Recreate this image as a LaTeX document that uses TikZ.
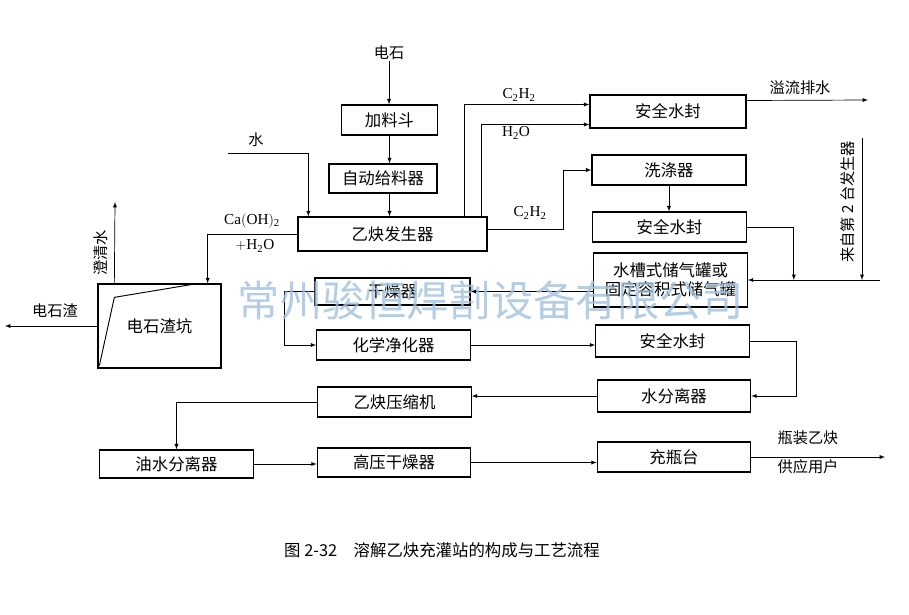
\documentclass[tikz,border=0pt]{standalone}
\usepackage{fontspec}
\setmainfont{Liberation Serif}
\newfontfamily\cjk{Noto Sans CJK SC}
\usepackage{xcolor}
\usetikzlibrary{calc, positioning}
\definecolor{markblue}{RGB}{160,192,222}

\begin{document}
\begin{tikzpicture}[>=latex, x=0.03cm, y=-0.03cm,
    box/.style={draw, line width=1.1pt, minimum width=4.6cm, minimum height=0.9cm,
        inner sep=1pt, font=\cjk\fontsize{14}{16}\selectfont},
    lbl/.style={inner sep=1pt, font=\cjk\fontsize{13}{15}\selectfont},
    flow/.style={->, line width=0.6pt}]
    \useasboundingbox (0,0) rectangle (909,614);

    % 加料与发生器
    \node[lbl] (stone) at (389,53) {电石};
    \node[box, minimum width=2.9cm] (feed) at (389.5,120) {加料斗};
    \node[box, minimum width=3.24cm, minimum height=0.87cm] (feeder) at (383,178.5) {自动给料器};
    \node[box, minimum width=5.67cm, minimum height=1.02cm] (gen) at (392.5,234) {乙炔发生器};
    \node[lbl] (water) at (256,140) {水};
    \coordinate (w0) at (228,153);
    \draw[flow] (stone.south) -- (stone.south |- feed.north);
    \draw[flow] (feed.south) -- (feed.south |- feeder.north);
    \draw[flow] (feed.south |- feeder.south) -- (feed.south |- gen.north);
    \draw[flow] (w0) -| ($(gen.north west)+(11,0)$);

    % 安全水封与储气
    \node[box, minimum width=4.68cm, minimum height=0.99cm] (seal1) at (668,111.5) {安全水封};
    \node[box, minimum width=4.62cm] (washer) at (669,170) {洗涤器};
    \node[box] (seal2) at (669.5,227) {安全水封};
    \node[box, minimum height=1.62cm, align=center] (tank) at (670.5,280) {水槽式储气罐或\\固定容积式储气罐};
    \draw[flow] ($(gen.north west)+(167,0)$) |- ($(seal1.west)+(0,-7)$);
    \draw[flow] ($(gen.north west)+(184,0)$) |- ($(seal1.west)+(0,13)$);
    \node[lbl] (c2h2a) at (519,95) {$\mathrm{C_2H_2}$};
    \node[lbl] (h2oa) at (516,133) {$\mathrm{H_2O}$};
    \coordinate (drain) at (868,100);
    \draw[flow] ($(seal1.east)+(0,-11)$) -- (drain);
    \node[lbl] (drainl) at (800,88) {溢流排水};
    \draw[flow] ($(gen.east)+(0,-5)$) -- ++(76,0) |- (washer.west);
    \node[lbl] (c2h2b) at (530,213) {$\mathrm{C_2H_2}$};
    \draw[flow] (washer.south) -- (washer.south |- seal2.north);
    \draw[flow] (seal2.east) -| ($(tank.east)+(46,0)$);
    \coordinate (in2) at (880,280);
    \coordinate (gen2) at (862,138);
    \draw[flow] (in2) -- (tank.east);
    \draw[flow] (gen2) -- (gen2 |- tank.east);
    \node[lbl, rotate=90] (gen2l) at (848,202) {来自第 2 台发生器};

    % 净化与压缩
    \node[box, minimum width=4.65cm, minimum height=0.81cm] (dryer) at (392.5,291.5) {干燥器};
    \draw[flow] (tank.west |- dryer.east) -- (dryer.east);
    \node[box] (purifier) at (393.5,345) {化学净化器};
    \draw[flow] (dryer.west) -- ++(-30,0) |- (purifier.west);
    \node[box, minimum height=0.96cm] (seal3) at (672.5,341) {安全水封};
    \draw[flow] (purifier.east) -- (purifier.east -| seal3.west);
    \node[box, minimum height=0.96cm] (sep) at (674,396) {水分离器};
    \draw[flow] (seal3.east) -- ++(47,0) |- (sep.east);
    \node[box] (comp) at (394.5,402) {乙炔压缩机};
    \draw[flow] (sep.west) -- (sep.west -| comp.east);
    \node[box, minimum height=0.84cm] (oilsep) at (176.5,464) {油水分离器};
    \draw[flow] (comp.west) -| (oilsep.north);
    \node[box, minimum height=0.87cm] (hpdry) at (394,462.5) {高压干燥器};
    \draw[flow] (oilsep.east) -- (oilsep.east -| hpdry.west);
    \node[box] (fill) at (674,457) {充瓶台};
    \draw[flow] (hpdry.east) -- (hpdry.east -| fill.west);
    \coordinate (user) at (885,457);
    \draw[flow] (fill.east) -- (user);
    \node[lbl] (userl) at (808,438) {瓶装乙炔};
    \node[lbl] (userl2) at (808,467) {供应用户};

    % 电石渣坑
    \node[box, minimum width=3.69cm, minimum height=2.52cm] (pit) at (159.5,326) {电石渣坑};
    \draw[line width=0.8pt] ($(pit.south west)+(2,-3)$) -- ($(pit.north west)+(17,14)$) -- ($(pit.north east)+(-23,0)$);
    \draw[flow] (gen.west) -| ($(pit.north east)+(-14,0)$);
    \node[lbl] (caoh) at (252,221) {$\mathrm{Ca(OH)_2}$};
    \node[lbl] (h2ob) at (255,246) {$+\mathrm{H_2O}$};
    \coordinate (clear) at (115,202);
    \draw[flow] ($(pit.north west)+(17,0)$) -- (clear);
    \node[lbl, rotate=90] (clearl) at (101,253) {澄清水};
    \coordinate (slag) at (5,326);
    \draw[flow] (pit.west) -- (slag);
    \node[lbl] (slagl) at (55,311) {电石渣};

    % 图题与水印
    \node[font=\cjk\fontsize{14}{16}\selectfont] (caption) at (442,550) {图 2-32\quad 溶解乙炔充灌站的构成与工艺流程};
    \node[text=markblue, opacity=0.8, font=\cjk\fontsize{36}{40}\selectfont] (mark) at (491,300) {常州骏恒焊割设备有限公司};
\end{tikzpicture}
\end{document}
